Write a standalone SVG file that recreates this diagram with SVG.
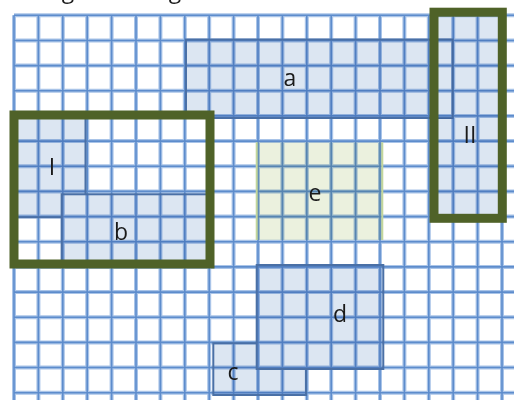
<svg xmlns="http://www.w3.org/2000/svg" width="514" height="400" viewBox="0 0 514 400">
<defs>
<style>
.gh{stroke:#a9c4e8;stroke-width:4;fill:none}
.gc{stroke:#5d8ccc;stroke-width:1.6;fill:none}
.blk{fill:#dce6f2;mix-blend-mode:multiply}
.bb{fill:none;stroke:#4a70a6;stroke-width:2}
.ef{fill:#ebf1de;mix-blend-mode:multiply}
.eb{fill:none;stroke:#c3d69b;stroke-width:2}
.fr{fill:none;stroke:#4f6228;stroke-width:9}
.lb{font-family:"Open Sans","Liberation Sans",sans-serif;font-size:23px;fill:#1a1a1a;text-anchor:middle}
</style>
<g id="gridlines">
<path id="gpath" d="M14 15.3V400M38.4 15.3V400M62.8 15.3V400M87.2 15.3V400M111.6 15.3V400M136 15.3V400M160.4 15.3V400M184.8 15.3V400M209.2 15.3V400M233.6 15.3V400M258 15.3V400M282.4 15.3V400M306.8 15.3V400M331.2 15.3V400M355.6 15.3V400M380 15.3V400M404.4 15.3V400M428.8 15.3V400M453.2 15.3V400M477.6 15.3V400M502 15.3V400M14 15.3H514M14 40.5H514M14 65.6H514M14 90.8H514M14 115.9H514M14 141.1H514M14 166.3H514M14 191.4H514M14 216.6H514M14 241.7H514M14 266.9H514M14 292.1H514M14 317.2H514M14 342.4H514M14 367.5H514M14 392.7H514"/>
</g>
</defs>
<rect width="514" height="400" fill="#ffffff"/>
<g id="caption">
<text class="lb" x="68" y="-2.5">g</text>
<text class="lb" x="175" y="-2.5">g</text>
</g>
<g id="grid">
<use href="#gpath" class="gh"/>
<use href="#gpath" class="gc"/>
</g>
<g id="node-a">
<rect class="blk" x="186" y="39.5" width="266.5" height="78.5"/>
<rect class="bb" x="186" y="39.5" width="266.5" height="78.5"/>
<text class="lb" x="290" y="86">a</text>
</g>
<g id="node-I">
<path class="blk" d="M14 116H85.5V194.3H61.7V217.3H14Z"/>
<path class="bb" d="M14 116H85.5V194.3M61.7 217.3H14Z"/>
<text class="lb" x="52" y="175">I</text>
</g>
<g id="node-b">
<rect class="blk" x="61.7" y="194.3" width="147.5" height="72"/>
<rect class="bb" x="61.7" y="194.3" width="147.5" height="72"/>
<text class="lb" x="121" y="240">b</text>
</g>
<g id="node-e">
<rect class="ef" x="256.7" y="142.3" width="125.6" height="97.7"/>
<path class="eb" d="M256.7 142.3V240M382.3 142.3V240"/>
<text class="lb" x="315" y="201">e</text>
</g>
<g id="node-c">
<path class="blk" d="M213.3 343.3H256.7V369H306V395H213.3Z"/>
<path class="bb" d="M256.7 343.3H213.3V395H306V369"/>
<text class="lb" x="233" y="380">c</text>
</g>
<g id="node-d">
<rect class="blk" x="256.7" y="265" width="126.6" height="104"/>
<rect class="bb" x="256.7" y="265" width="126.6" height="104"/>
<text class="lb" x="340" y="322">d</text>
</g>
<g id="node-II">
<path class="blk" d="M430 15.3H502V216.6H430V118H452.5V39.5H430Z"/>
<text class="lb" x="470" y="143">II</text>
</g>
<g id="node-frame-1">
<rect class="fr" x="14" y="115" width="196" height="149"/>
</g>
<g id="node-frame-2">
<rect class="fr" x="434" y="12.2" width="68.3" height="206.1" stroke-width="8.5"/>
</g>
<g id="connectors"/>
</svg>
